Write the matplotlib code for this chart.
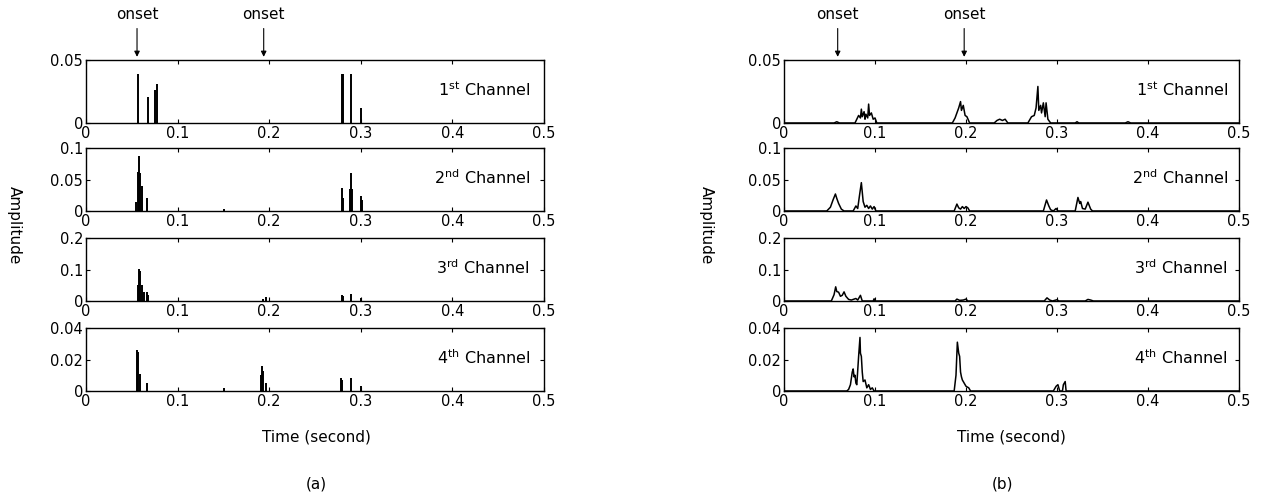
import matplotlib
matplotlib.use("Agg")
import matplotlib.pyplot as plt

plt.rcParams['font.family'] = ['DejaVu Sans']
plt.rcParams['mathtext.default'] = 'regular'

# ---------------- data ----------------
channel_labels = ["1$^{st}$ Channel", "2$^{nd}$ Channel", "3$^{rd}$ Channel", "4$^{th}$ Channel"]
y_limits = [0.05, 0.1, 0.2, 0.04]
y_ticks = [[0, 0.05], [0, 0.05, 0.1], [0, 0.1, 0.2], [0, 0.02, 0.04]]
y_ticklabels = [["0", "0.05"], ["0", "0.05", "0.1"], ["0", "0.1", "0.2"], ["0", "0.02", "0.04"]]
x_ticks = [0, 0.1, 0.2, 0.3, 0.4, 0.5]
x_ticklabels = ["0", "0.1", "0.2", "0.3", "0.4", "0.5"]

onset_a = [0.0557, 0.194]
onset_b = [0.059, 0.198]

# panel (a): sparse spikes
a_ch1_t = [0.057, 0.068, 0.075, 0.077, 0.279, 0.281, 0.289, 0.300]
a_ch1_a = [0.039, 0.021, 0.026, 0.031, 0.039, 0.039, 0.039, 0.012]
a_ch2_t = [0.055, 0.057, 0.058, 0.059, 0.061, 0.067, 0.151, 0.280, 0.281, 0.288, 0.289, 0.290, 0.300, 0.301]
a_ch2_a = [0.015, 0.062, 0.088, 0.060, 0.040, 0.021, 0.003, 0.036, 0.020, 0.035, 0.060, 0.035, 0.024, 0.018]
a_ch3_t = [0.057, 0.058, 0.059, 0.061, 0.063, 0.067, 0.068, 0.193, 0.197, 0.279, 0.281, 0.289, 0.300]
a_ch3_a = [0.050, 0.103, 0.095, 0.050, 0.030, 0.030, 0.020, 0.005, 0.012, 0.020, 0.016, 0.021, 0.008]
a_ch4_t = [0.056, 0.057, 0.059, 0.067, 0.151, 0.191, 0.192, 0.193, 0.197, 0.278, 0.280, 0.289, 0.300]
a_ch4_a = [0.026, 0.025, 0.011, 0.005, 0.002, 0.010, 0.016, 0.013, 0.005, 0.008, 0.007, 0.008, 0.003]

# panel (b): envelope-like traces
b_ch1_t = [0, 0.055, 0.058, 0.061, 0.078, 0.080, 0.082, 0.084, 0.085, 0.086, 0.088, 0.089, 0.090,
           0.092, 0.093, 0.094, 0.096, 0.098, 0.100, 0.102, 0.185, 0.188, 0.190, 0.192, 0.194,
           0.195, 0.197, 0.199, 0.201, 0.204, 0.231, 0.234, 0.237, 0.240, 0.243, 0.246, 0.268,
           0.272, 0.275, 0.277, 0.279, 0.280, 0.282, 0.283, 0.285, 0.287, 0.288, 0.290, 0.293,
           0.320, 0.322, 0.324, 0.375, 0.378, 0.381, 0.5]
b_ch1_a = [0, 0, 0.001, 0, 0, 0.003, 0.006, 0.004, 0.011, 0.005, 0.009, 0.003, 0.007,
           0.004, 0.015, 0.006, 0.008, 0.003, 0.004, 0, 0, 0.004, 0.008, 0.012, 0.017,
           0.010, 0.014, 0.006, 0.005, 0, 0, 0.002, 0.003, 0.002, 0.003, 0, 0,
           0.005, 0.006, 0.012, 0.029, 0.010, 0.014, 0.008, 0.016, 0.005, 0.016, 0.003, 0,
           0, 0.001, 0, 0, 0.001, 0, 0]
b_ch2_t = [0, 0.047, 0.051, 0.054, 0.0565, 0.058, 0.060, 0.063, 0.066, 0.076, 0.079, 0.081,
           0.083, 0.085, 0.086, 0.087, 0.089, 0.091, 0.093, 0.095, 0.097, 0.099, 0.101, 0.187,
           0.190, 0.192, 0.194, 0.196, 0.198, 0.200, 0.202, 0.204, 0.285, 0.2885, 0.291, 0.293,
           0.296, 0.299, 0.301, 0.320, 0.323, 0.325, 0.326, 0.328, 0.331, 0.334, 0.337, 0.339, 0.5]
b_ch2_a = [0, 0, 0.006, 0.018, 0.027, 0.020, 0.012, 0.003, 0, 0, 0.008, 0.004,
           0.025, 0.045, 0.030, 0.015, 0.006, 0.009, 0.004, 0.008, 0.003, 0.007, 0, 0,
           0.011, 0.005, 0.003, 0.007, 0.004, 0.007, 0.005, 0, 0, 0.0175, 0.008, 0.002,
           0, 0.004, 0, 0, 0.0215, 0.012, 0.015, 0.004, 0.003, 0.014, 0.003, 0, 0]
b_ch3_t = [0, 0.052, 0.055, 0.0568, 0.058, 0.060, 0.062, 0.064, 0.066, 0.068, 0.071, 0.074,
           0.077, 0.079, 0.081, 0.084, 0.086, 0.098, 0.099, 0.100, 0.188, 0.190, 0.193, 0.197,
           0.200, 0.202, 0.286, 0.289, 0.292, 0.295, 0.300, 0.302, 0.331, 0.334, 0.337, 0.340, 0.5]
b_ch3_a = [0, 0, 0.020, 0.045, 0.030, 0.028, 0.015, 0.018, 0.029, 0.015, 0.005, 0.003,
           0.006, 0.008, 0.003, 0.018, 0, 0, 0.007, 0, 0, 0.006, 0.002, 0.003,
           0.006, 0, 0, 0.010, 0.003, 0, 0.004, 0, 0, 0.005, 0.003, 0, 0]
b_ch4_t = [0, 0.069, 0.071, 0.073, 0.075, 0.076, 0.077, 0.078, 0.079, 0.080, 0.081, 0.082,
           0.0835, 0.084, 0.085, 0.086, 0.087, 0.089, 0.091, 0.093, 0.095, 0.097, 0.099, 0.187,
           0.189, 0.1905, 0.192, 0.193, 0.194, 0.195, 0.196, 0.198, 0.200, 0.203, 0.205, 0.296,
           0.299, 0.301, 0.303, 0.306, 0.307, 0.309, 0.310, 0.5]
b_ch4_a = [0, 0, 0.001, 0.004, 0.012, 0.014, 0.009, 0.010, 0.005, 0.004, 0.013, 0.022,
           0.034, 0.024, 0.022, 0.012, 0.006, 0.007, 0.002, 0.004, 0.001, 0.002, 0, 0,
           0.010, 0.031, 0.024, 0.022, 0.012, 0.009, 0.007, 0.005, 0.003, 0.002, 0, 0,
           0.003, 0.004, 0, 0, 0.004, 0.006, 0, 0]

a_t = [a_ch1_t, a_ch2_t, a_ch3_t, a_ch4_t]
a_a = [a_ch1_a, a_ch2_a, a_ch3_a, a_ch4_a]
b_t = [b_ch1_t, b_ch2_t, b_ch3_t, b_ch4_t]
b_a = [b_ch1_a, b_ch2_a, b_ch3_a, b_ch4_a]

# ---------------- layout ----------------
W, H = 1261, 495
fig = plt.figure(figsize=(W / 100, H / 100), dpi=100)

tops_px = [60, 148, 238, 328]
h_px = 63
panels = [(86, 458, a_t, a_a, 'spike', onset_a), (784, 455, b_t, b_a, 'line', onset_b)]

TICK_FS = 10.5
for left_px, w_px, T, A, kind, onsets in panels:
    axes = []
    for i, top in enumerate(tops_px):
        ax = fig.add_axes([left_px / W, 1 - (top + h_px) / H, w_px / W, h_px / H])
        if kind == 'spike':
            ax.vlines(T[i], 0, A[i], color='k', lw=1.4)
        else:
            ax.plot(T[i], A[i], color='k', lw=1.1)
        ax.set_xlim(0, 0.5)
        ax.set_ylim(0, y_limits[i])
        ax.set_xticks(x_ticks)
        ax.set_xticklabels(x_ticklabels, fontsize=TICK_FS)
        ax.set_yticks(y_ticks[i])
        ax.set_yticklabels(y_ticklabels[i], fontsize=TICK_FS)
        ax.tick_params(direction='in', length=3, width=0.8, top=True, right=True, pad=2)
        for s in ax.spines.values():
            s.set_linewidth(1.0)
        ax.text(0.97 if kind == 'spike' else 0.976, 0.53, channel_labels[i],
                transform=ax.transAxes, ha='right', va='center', fontsize=11.5)
        axes.append(ax)
    ax0 = axes[0]
    for t in onsets:
        ax0.annotate('', xy=(t, 1.05), xycoords=('data', 'axes fraction'),
                     xytext=(t, 1.50), textcoords=('data', 'axes fraction'),
                     arrowprops=dict(arrowstyle='-|>', lw=0.8, color='k',
                                     mutation_scale=8, shrinkA=0, shrinkB=0))
        ax0.text(t, 1.72, 'onset', transform=ax0.get_xaxis_transform(),
                 ha='center', va='center', fontsize=11)

fig.text(14 / W, 1 - 225 / H, 'Amplitude', rotation=-90, ha='center', va='center', fontsize=11)
fig.text(706 / W, 1 - 225 / H, 'Amplitude', rotation=-90, ha='center', va='center', fontsize=11)
fig.text(316 / W, 1 - 437 / H, 'Time (second)', ha='center', va='center', fontsize=11)
fig.text(1011 / W, 1 - 437 / H, 'Time (second)', ha='center', va='center', fontsize=11)
fig.text(316 / W, 1 - 484 / H, '(a)', ha='center', va='center', fontsize=11)
fig.text(1003 / W, 1 - 484 / H, '(b)', ha='center', va='center', fontsize=11)

fig.savefig('out.png', dpi=100)
